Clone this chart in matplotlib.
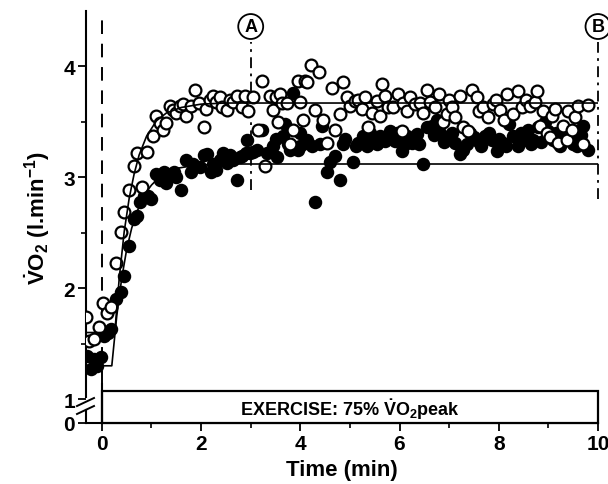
import numpy as np
import matplotlib
matplotlib.use("Agg")
import matplotlib.pyplot as plt
from matplotlib.patches import Rectangle
from matplotlib.ticker import FixedLocator

plt.rcParams['font.family'] = 'Liberation Sans'
plt.rcParams['font.weight'] = 'bold'
plt.rcParams['mathtext.fontset'] = 'custom'
plt.rcParams['mathtext.rm'] = 'Liberation Sans:bold'
plt.rcParams['mathtext.bf'] = 'Liberation Sans:bold'
plt.rcParams['mathtext.it'] = 'Liberation Sans:bold'

# open circles (time in min, VO2 in l/min)
open_t = [-0.32, -0.26, -0.16, -0.06, 0.02, 0.1, 0.18, 0.28, 0.38, 0.45, 0.54, 0.64, 0.7, 0.8, 0.9,
          1.03, 1.1, 1.17, 1.23, 1.3, 1.37, 1.44, 1.5, 1.57, 1.63, 1.7, 1.8, 1.88, 1.95,
          2.05, 2.1, 2.18, 2.24, 2.3, 2.38, 2.42, 2.52, 2.58, 2.65, 2.72, 2.82, 2.88, 2.95,
          3.05, 3.15, 3.22, 3.29, 3.39, 3.45, 3.5, 3.55, 3.59, 3.63, 3.73, 3.79, 3.85, 3.95,
          4.0, 4.05, 4.09, 4.13, 4.21, 4.29, 4.38, 4.46, 4.54, 4.64, 4.7, 4.8, 4.86, 4.95,
          5.0, 5.1, 5.17, 5.25, 5.3, 5.36, 5.44, 5.54, 5.6, 5.64, 5.7, 5.77, 5.87, 5.97,
          6.05, 6.07, 6.15, 6.21, 6.31, 6.41, 6.47, 6.55, 6.62, 6.71, 6.79, 6.88, 6.96,
          7.0, 7.06, 7.12, 7.22, 7.28, 7.38, 7.46, 7.56, 7.6, 7.68, 7.78, 7.88, 7.95,
          8.02, 8.1, 8.17, 8.29, 8.39, 8.47, 8.55, 8.63, 8.73, 8.77, 8.83, 8.89, 8.97,
          9.03, 9.07, 9.13, 9.19, 9.29, 9.37, 9.4, 9.47, 9.54, 9.6, 9.7, 9.8]
open_v = [1.74, 1.52, 1.54, 1.65, 1.87, 1.78, 1.83, 2.23, 2.51, 2.69, 2.89, 3.1, 3.22, 2.91, 3.23,
          3.37, 3.55, 3.49, 3.43, 3.49, 3.64, 3.61, 3.58, 3.64, 3.66, 3.55, 3.64, 3.79, 3.67,
          3.45, 3.62, 3.7, 3.73, 3.68, 3.72, 3.63, 3.61, 3.7, 3.68, 3.73, 3.63, 3.73, 3.6,
          3.72, 3.43, 3.87, 3.1, 3.73, 3.61, 3.72, 3.5, 3.75, 3.67, 3.67, 3.3, 3.43, 3.87,
          3.68, 3.52, 3.87, 3.86, 4.01, 3.61, 3.95, 3.52, 3.31, 3.81, 3.43, 3.57, 3.86, 3.72,
          3.64, 3.69, 3.7, 3.62, 3.72, 3.45, 3.58, 3.69, 3.55, 3.84, 3.73, 3.63, 3.63, 3.75,
          3.42, 3.67, 3.6, 3.72, 3.66, 3.67, 3.58, 3.79, 3.68, 3.63, 3.75, 3.5, 3.57,
          3.7, 3.63, 3.54, 3.73, 3.45, 3.42, 3.79, 3.72, 3.6, 3.63, 3.54, 3.66, 3.7,
          3.61, 3.52, 3.75, 3.57, 3.78, 3.63, 3.7, 3.64, 3.68, 3.78, 3.46, 3.6, 3.4,
          3.36, 3.55, 3.62, 3.31, 3.46, 3.34, 3.6, 3.43, 3.54, 3.64, 3.3, 3.65]

# filled circles
fill_t = [-0.3, -0.22, -0.16, -0.1, -0.02, 0.04, 0.12, 0.18, 0.28, 0.38, 0.44, 0.54, 0.64, 0.7, 0.77,
          0.85, 0.92, 1.0, 1.09, 1.17, 1.25, 1.3, 1.37, 1.45, 1.5, 1.59, 1.7, 1.8, 1.84, 1.97,
          2.05, 2.12, 2.2, 2.24, 2.31, 2.38, 2.44, 2.52, 2.58, 2.64, 2.72, 2.78, 2.82, 2.9, 2.92, 2.98,
          3.05, 3.13, 3.19, 3.22, 3.33, 3.45, 3.5, 3.53, 3.65, 3.69, 3.75, 3.79, 3.85, 3.95, 3.99,
          4.0, 4.09, 4.13, 4.23, 4.29, 4.39, 4.44, 4.54, 4.6, 4.7, 4.8, 4.86, 4.9,
          5.06, 5.12, 5.17, 5.26, 5.34, 5.4, 5.46, 5.55, 5.6, 5.71, 5.81, 5.9, 5.95,
          6.05, 6.1, 6.15, 6.25, 6.35, 6.4, 6.47, 6.55, 6.65, 6.7, 6.75, 6.81, 6.9, 6.98,
          7.05, 7.12, 7.22, 7.28, 7.35, 7.42, 7.5, 7.58, 7.65, 7.72, 7.8, 7.86, 7.96,
          8.0, 8.09, 8.15, 8.21, 8.29, 8.39, 8.45, 8.49, 8.59, 8.65, 8.69, 8.79, 8.85, 8.93, 8.99,
          9.09, 9.15, 9.23, 9.3, 9.43, 9.5, 9.58, 9.65, 9.7, 9.8]
fill_v = [1.39, 1.27, 1.36, 1.3, 1.38, 1.57, 1.6, 1.63, 1.9, 1.97, 2.11, 2.38, 2.62, 2.65, 2.78,
          2.83, 2.83, 2.8, 3.03, 2.98, 3.05, 2.95, 3.01, 3.05, 3.0, 2.89, 3.16, 3.05, 3.12, 3.09,
          3.2, 3.21, 3.05, 3.12, 3.07, 3.16, 3.22, 3.13, 3.2, 3.16, 2.98, 3.18, 3.19, 3.22, 3.34, 3.22,
          3.23, 3.25, 3.43, 3.43, 3.22, 3.28, 3.35, 3.18, 3.37, 3.48, 3.3, 3.25, 3.76, 3.25, 3.28,
          3.4, 3.31, 3.34, 3.28, 2.78, 3.3, 3.46, 3.05, 3.14, 3.19, 2.98, 3.3, 3.35,
          3.14, 3.28, 3.31, 3.37, 3.28, 3.4, 3.34, 3.3, 3.37, 3.33, 3.42, 3.33, 3.4,
          3.24, 3.3, 3.37, 3.31, 3.39, 3.3, 3.12, 3.45, 3.46, 3.38, 3.52, 3.4, 3.32, 3.36,
          3.4, 3.31, 3.21, 3.25, 3.3, 3.4, 3.36, 3.33, 3.28, 3.37, 3.4, 3.34, 3.24,
          3.35, 3.31, 3.28, 3.48, 3.37, 3.28, 3.4, 3.34, 3.43, 3.3, 3.34, 3.45, 3.32, 3.5, 3.42,
          3.34, 3.4, 3.28, 3.35, 3.36, 3.3, 3.28, 3.38, 3.46, 3.25]

# fitted curves
open_fit_t = [-0.32, 0.26, 0.35, 0.45, 0.55, 0.65, 0.75, 0.9, 1.1, 1.3, 1.6, 2.0, 2.5, 3.0, 10.0]
open_fit_v = [1.60, 1.60, 2.09, 2.51, 2.81, 3.03, 3.20, 3.37, 3.51, 3.58, 3.63, 3.66, 3.67, 3.67, 3.67]
fill_fit_t = [-0.32, 0.2, 0.3, 0.4, 0.5, 0.6, 0.7, 0.85, 1.0, 1.2, 1.5, 1.9, 2.5, 10.0]
fill_fit_v = [1.30, 1.30, 1.75, 2.09, 2.35, 2.54, 2.68, 2.84, 2.93, 3.02, 3.08, 3.11, 3.12, 3.12]

xticks = [0, 2, 4, 6, 8, 10]
yticks = [0, 1, 2, 3, 4]

# compressed 0-1 range below the axis break
k = 0.216


def fwd(y):
    y = np.asarray(y, dtype=float)
    return np.where(y < 1, y * k, y - 1 + k)


def inv(u):
    u = np.asarray(u, dtype=float)
    return np.where(u < k, u / k, u + 1 - k)


fig = plt.figure(figsize=(6.08, 4.85), dpi=100)
ax = fig.add_axes([86 / 608, 61 / 485, 512 / 608, 412 / 485])
ax.set_yscale('function', functions=(fwd, inv))
ax.set_xlim(-0.32, 10)
ax.set_ylim(0, 4.5)

ax.plot(fill_t, fill_v, 'o', ms=8.5, mfc='black', mec='black', mew=1.2, zorder=3)
ax.plot(open_t, open_v, 'o', ms=8.5, mfc='white', mec='black', mew=1.6, zorder=4)
ax.plot(open_fit_t, open_fit_v, color='black', lw=1.2, zorder=5)
ax.plot(fill_fit_t, fill_fit_v, color='black', lw=1.2, zorder=5)

# markers for exercise onset and sampling points
ax.plot([0, 0], [1.135, 4.44], color='black', lw=1.4, dashes=(7, 5), zorder=2)
ax.plot([0, 0], [0, 1.14], color='black', lw=1.5, clip_on=False, zorder=6)
ax.plot([3, 3], [2.89, 4.22], color='black', lw=1.3, dashes=(6, 3, 1.5, 3), zorder=2)
ax.plot([10, 10], [2.80, 4.22], color='black', lw=1.3, dashes=(6, 3, 1.5, 3), zorder=2, clip_on=False)
for xt, lab in [(3, 'A'), (10, 'B')]:
    ax.text(xt, 4.36, lab, ha='center', va='center', fontsize=13, fontweight='bold',
            bbox=dict(boxstyle='circle,pad=0.22', fc='white', ec='black', lw=1.3), clip_on=False)

ax.add_patch(Rectangle((0, 0.02), 10, 1.05, fill=True, fc='white', ec='black', lw=1.6, zorder=5,
                       clip_on=False))
ax.text(5.0, 0.6, r'EXERCISE: 75% $\dot{\mathrm{V}}\mathrm{O_2}$peak', ha='center', va='center',
        fontsize=13, fontweight='bold', zorder=6)

# axes styling with broken left spine
ax.spines['top'].set_visible(False)
ax.spines['right'].set_visible(False)
ax.spines['left'].set_visible(False)
ax.spines['bottom'].set_linewidth(1.5)
y_hi = (424 - 398) / 412
y_lo = (424 - 411) / 412
ax.plot([0, 0], [y_hi, 1], transform=ax.transAxes, color='black', lw=1.5, clip_on=False)
ax.plot([0, 0], [0, y_lo], transform=ax.transAxes, color='black', lw=1.5, clip_on=False)
for off in [0, -8]:
    x0, y0 = (77 - 86) / 512, (424 - 407 + off) / 412
    x1, y1 = (94 - 86) / 512, (424 - 399 + off) / 412
    ax.plot([x0, x1], [y0, y1], transform=ax.transAxes, color='black', lw=1.4, clip_on=False)

ax.xaxis.set_major_locator(FixedLocator(xticks))
ax.xaxis.set_minor_locator(FixedLocator([1, 3, 5, 7, 9]))
ax.yaxis.set_major_locator(FixedLocator(yticks))
ax.yaxis.set_minor_locator(FixedLocator([1.5, 2.5, 3.5]))
ax.tick_params(which='major', direction='out', length=6, width=1.3, labelsize=15, pad=2)
ax.tick_params(which='minor', direction='out', length=3.5, width=1.2)
ax.set_xticklabels([str(v) for v in xticks], fontweight='bold')
ax.set_yticklabels([str(v) for v in yticks], fontweight='bold')

ax.set_xlabel('Time (min)', fontsize=16, fontweight='bold', labelpad=4)
ax.set_ylabel(r'$\dot{\mathrm{V}}\mathrm{O_2}$ (l.min$^{\mathrm{-1}}$)', fontsize=16,
              fontweight='bold', labelpad=8)

fig.savefig('out.png', dpi=100)
